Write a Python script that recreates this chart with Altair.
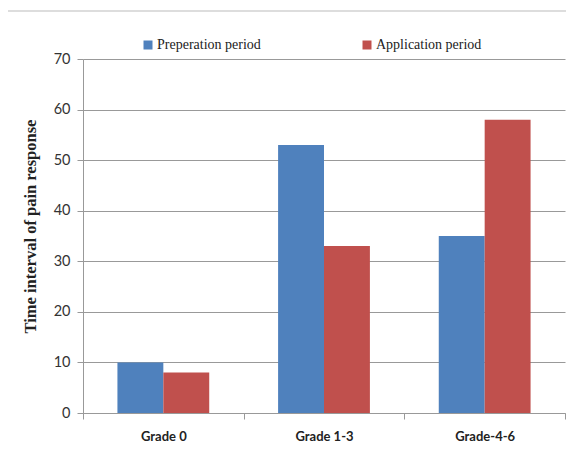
import altair as alt
import pandas as pd

categories = ["Grade 0", "Grade 1-3", "Grade-4-6"]
series = ["Preperation period", "Application period"]
preparation = [10, 53, 35]
application = [8, 33, 58]
colors = ["#4F81BD", "#C0504D"]

rows = []
for c, p, a in zip(categories, preparation, application):
    rows.append({"grade": c, "period": series[0], "value": p})
    rows.append({"grade": c, "period": series[1], "value": a})
df = pd.DataFrame(rows)

SANS = "Liberation Sans Narrow, Lato, sans-serif"

bars = alt.Chart(df).mark_bar().encode(
    x=alt.X("grade:N", sort=categories,
            scale=alt.Scale(paddingInner=0, paddingOuter=0),
            axis=alt.Axis(title=None, labelAngle=0, labelFontWeight="bold",
                          labelFont=SANS, labelFontSize=13, labelColor="#222",
                          labelPadding=11, tickBand="extent", tickSize=6,
                          domainColor="#999", tickColor="#999", grid=False)),
    xOffset=alt.XOffset("period:N", sort=series,
                        scale=alt.Scale(paddingOuter=0.75, paddingInner=0)),
    y=alt.Y("value:Q", scale=alt.Scale(domain=[0, 70]),
            axis=alt.Axis(values=list(range(0, 71, 10)), title="Time interval of pain response",
                          titleFont="Liberation Serif", titleFontSize=16.5, titleFontWeight="bold",
                          titleColor="#222", titleX=-45, titleY=167,
                          labelFont=SANS, labelFontSize=14.5, labelColor="#333",
                          labelPadding=7, tickSize=6, domainColor="#999", tickColor="#999",
                          gridColor="#999", gridWidth=1)),
    color=alt.Color("period:N", sort=series,
                    scale=alt.Scale(domain=series, range=colors),
                    legend=alt.Legend(title=None, orient="none", legendX=58, legendY=-21,
                                      direction="horizontal", symbolType="square",
                                      symbolSize=81, symbolStrokeWidth=0,
                                      labelFont="Liberation Serif", labelFontSize=14,
                                      labelColor="#222", labelOffset=2, columnPadding=99)),
)

border = alt.Chart(pd.DataFrame({"a": [0]})).mark_rule(color="#bbb", strokeWidth=1, clip=False).encode(
    x=alt.value(-76), x2=alt.value(500), y=alt.value(-48)
)
border_left = alt.Chart(pd.DataFrame({"a": [0]})).mark_rule(color="#bbb", strokeWidth=1, clip=False).encode(
    x=alt.value(-76), y=alt.value(-48), y2=alt.value(400)
)

chart = alt.layer(bars, border, border_left).properties(
    width=482, height=354,
    autosize=alt.AutoSizeParams(type="none"),
    padding={"left": 75, "top": 51, "right": 1, "bottom": 40},
).configure_view(stroke=None)

chart.save("out.html", embed_options={"renderer": "svg", "actions": False})
